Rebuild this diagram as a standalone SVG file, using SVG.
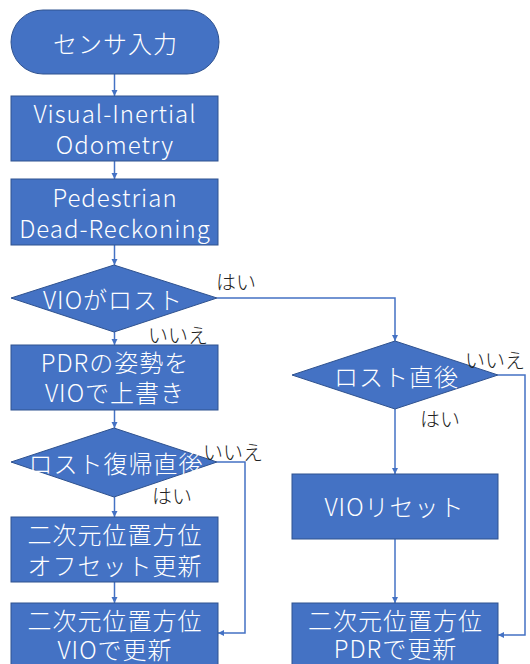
<svg xmlns="http://www.w3.org/2000/svg" width="530" height="664" viewBox="0 0 530 664">
<style>
.s{fill:#4472C4;stroke:#2F528F;stroke-width:1}
.t{fill:#fff;font-family:"Noto Sans CJK JP","Noto Sans",sans-serif;font-weight:300;font-size:24px;letter-spacing:1px;text-anchor:middle;dominant-baseline:central}
.l{fill:#222;font-family:"Noto Sans CJK JP",sans-serif;font-weight:300;font-size:20px;dominant-baseline:central}
.c{fill:none;stroke:#4472C4;stroke-width:1.5}
</style>
<defs>
<marker id="a" viewBox="0 0 10 10" refX="10" refY="5" markerWidth="6" markerHeight="6" markerUnits="userSpaceOnUse" orient="auto" overflow="visible">
<path d="M0,0L10,5L0,10z" fill="#4472C4"/>
</marker>
</defs>
<g id="connectors">
<path class="c" marker-end="url(#a)" d="M114.5,74V96"/>
<path class="c" marker-end="url(#a)" d="M114.5,161V179"/>
<path class="c" marker-end="url(#a)" d="M114.5,245V265"/>
<path class="c" marker-end="url(#a)" d="M114.5,332V345"/>
<path class="c" marker-end="url(#a)" d="M114.5,410V428"/>
<path class="c" marker-end="url(#a)" d="M114.5,497V517"/>
<path class="c" marker-end="url(#a)" d="M114.5,582V603"/>
<path class="c" marker-end="url(#a)" d="M217,298H395V341"/>
<path class="c" marker-end="url(#a)" d="M395,409V474"/>
<path class="c" marker-end="url(#a)" d="M395,539V603"/>
<path class="c" marker-end="url(#a)" d="M498,375H525V635H498"/>
<path class="c" marker-end="url(#a)" d="M217,462H245V633H218"/>
</g>
<g id="start">
<rect class="s" x="11" y="10" width="208" height="64" rx="32"/>
<text class="t" x="115.5" y="42">センサ入力</text>
</g>
<g id="vio">
<rect class="s" x="11" y="96" width="207" height="65"/>
<text class="t" x="115" y="112">Visual-Inertial</text>
<text class="t" x="115" y="143">Odometry</text>
</g>
<g id="pdr">
<rect class="s" x="11" y="179" width="207" height="66"/>
<text class="t" x="115" y="196">Pedestrian</text>
<text class="t" x="115" y="227">Dead-Reckoning</text>
</g>
<g id="d1">
<polygon class="s" points="114,265 217,298 114,332 11,298"/>
<text class="t" x="113" y="298">VIOがロスト</text>
<text class="l" x="216" y="281">はい</text>
<text class="l" x="148" y="334">いいえ</text>
</g>
<g id="overwrite">
<rect class="s" x="11" y="345" width="207" height="65"/>
<text class="t" x="115" y="361">PDRの姿勢を</text>
<text class="t" x="115" y="391">VIOで上書き</text>
</g>
<g id="d3">
<polygon class="s" points="114,428 217,462 114,497 11,462"/>
<text class="t" x="116" y="462">ロスト復帰直後</text>
<text class="l" x="203" y="451">いいえ</text>
<text class="l" x="152" y="495">はい</text>
</g>
<g id="offset">
<rect class="s" x="11" y="517" width="207" height="65"/>
<text class="t" x="115" y="533">二次元位置方位</text>
<text class="t" x="115" y="564">オフセット更新</text>
</g>
<g id="vioupdate">
<rect class="s" x="11" y="603" width="207" height="66"/>
<text class="t" x="115" y="619">二次元位置方位</text>
<text class="t" x="115" y="648">VIOで更新</text>
</g>
<g id="d2">
<polygon class="s" points="395,341 498,375 395,409 292,375"/>
<text class="t" x="396.5" y="375">ロスト直後</text>
<text class="l" x="465" y="359">いいえ</text>
<text class="l" x="420" y="418">はい</text>
</g>
<g id="reset">
<rect class="s" x="292" y="474" width="206" height="65"/>
<text class="t" x="394.5" y="505">VIOリセット</text>
</g>
<g id="pdrupdate">
<rect class="s" x="292" y="603" width="206" height="66"/>
<text class="t" x="395.5" y="619">二次元位置方位</text>
<text class="t" x="395.5" y="647">PDRで更新</text>
</g>
</svg>
